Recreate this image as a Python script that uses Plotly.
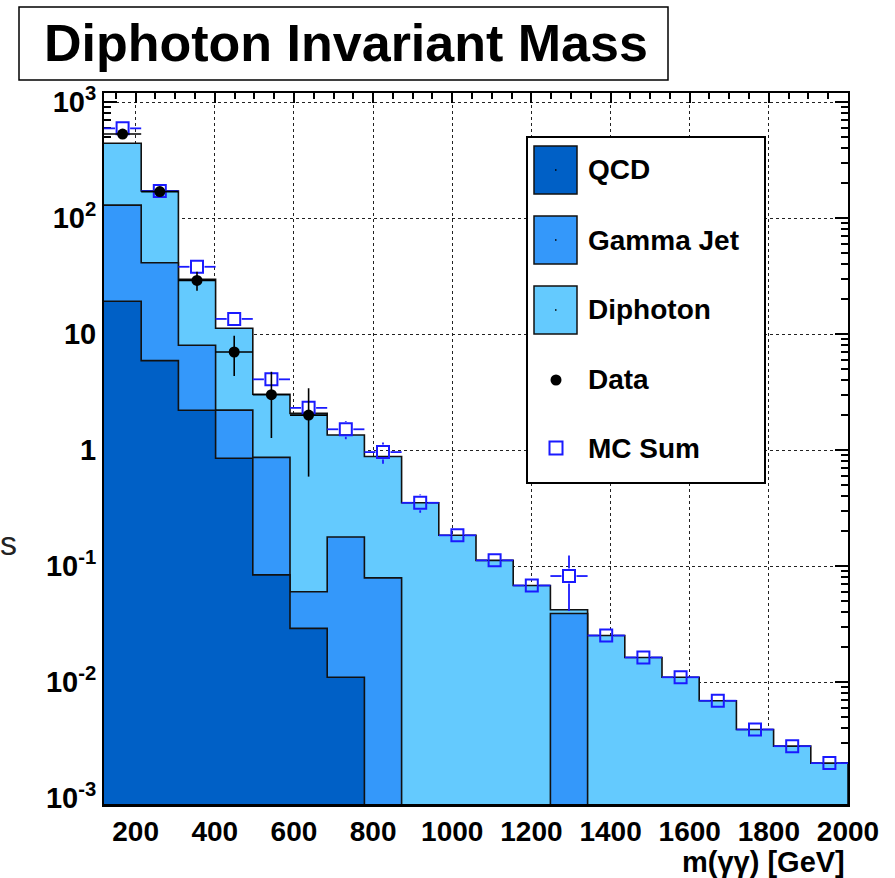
import numpy as np
import plotly.graph_objects as go

# ---------------- data ----------------
bin_low = 120
bin_width = 94
n_bins = 20
edges = bin_low + bin_width * np.arange(n_bins + 1)
centers = edges[:-1] + bin_width / 2

qcd = [19.2, 5.9, 2.2, 0.85, 0.084, 0.029, 0.011, 0, 0, 0,
       0, 0, 0, 0, 0, 0, 0, 0, 0, 0]
gamma_jet = [110.0, 35.3, 5.8, 1.36, 0.78, 0.031, 0.167, 0.079, 0, 0,
             0, 0, 0.039, 0, 0, 0, 0, 0, 0, 0]
diphoton = [312.0, 130.0, 21.6, 9.0, 2.16, 2.01, 1.17, 0.80, 0.351, 0.184,
            0.112, 0.068, 0.003, 0.0252, 0.0163, 0.011, 0.0069, 0.0039, 0.0028, 0.0020]

data_vals = [530, 169, 29, 7, 3, 2]
data_err = [23, 13, 5.4, 2.65, 1.73, 1.41]

mc_sum = [593, 171, 38, 13.5, 4.07, 2.31, 1.51, 0.96, 0.351, 0.184,
          0.112, 0.068, 0.082, 0.0252, 0.0163, 0.011, 0.0069, 0.0039, 0.0028, 0.0020]
mc_err = [15, 5, 1.5, 0.8, 0.55, 0.35, 0.27, 0.2, 0.063, 0.02,
          0.01, 0.006, 0.041, 0.002, 0.0012, 0.0008, 0.0005, 0.0003, 0.0003, 0.0002]

x_tickvals = [200, 400, 600, 800, 1000, 1200, 1400, 1600, 1800, 2000]
y_tickvals = [1e-3, 1e-2, 1e-1, 1, 10, 1e2, 1e3]
y_ticktext = ["10<sup>-3</sup>", "10<sup>-2</sup>", "10<sup>-1</sup>", "1", "10",
              "10<sup>2</sup>", "10<sup>3</sup>"]

legend_labels = ["QCD", "Gamma Jet", "Diphoton", "Data", "MC Sum"]
title_text = "Diphoton Invariant Mass"
x_title = "m(γγ) [GeV]"

# ---------------- style ----------------
C_QCD = "#0060c6"
C_GJ = "#3498fa"
C_DIPH = "#64cafe"
C_MC = "#1a1aff"
FONT = "Liberation Sans, Arial, Helvetica, sans-serif"

W, H = 895, 878
L, R, T, B = 104, 848, 93, 805
Y_RANGE = [-3.06, 3.078]
PX_PER_GEV = (R - L) / (edges[-1] - edges[0])
PX_PER_DEC = (B - T) / (Y_RANGE[1] - Y_RANGE[0])


def px_x(p):
    return (p - L) / (R - L)


def px_y(p):
    return (B - p) / (B - T)


FLOOR = 1e-9


def step_xy(vals):
    xs, ys = [], []
    for i, v in enumerate(vals):
        v = v if v > 0 else FLOOR
        xs += [edges[i], edges[i + 1]]
        ys += [v, v]
    return xs, ys


cum_qcd = np.array(qcd, dtype=float)
cum_gj = cum_qcd + np.array(gamma_jet, dtype=float)
cum_all = cum_gj + np.array(diphoton, dtype=float)

fig = go.Figure()

for vals, col in [(cum_all, C_DIPH), (cum_gj, C_GJ), (cum_qcd, C_QCD)]:
    xs, ys = step_xy(vals)
    fig.add_trace(go.Scatter(
        x=[edges[0]] + xs + [edges[-1]], y=[FLOOR] + ys + [FLOOR],
        mode="lines", fill="toself", fillcolor=col,
        line=dict(width=0), hoverinfo="skip", showlegend=False))
    fig.add_trace(go.Scatter(
        x=xs + [edges[-1]], y=ys + [FLOOR], mode="lines",
        line=dict(color="#111111", width=1.6), hoverinfo="skip", showlegend=False))

# MC sum error bars, drawn with a gap where the open marker sits (as ROOT does)
gap_x = 7.5 / PX_PER_GEV
gap_f = 10 ** (7.5 / PX_PER_DEC)
ex, ey = [], []
for i, (c, v, e) in enumerate(zip(centers, mc_sum, mc_err)):
    ex += [edges[i], c - gap_x, None, c + gap_x, edges[i + 1], None]
    ey += [v, v, None, v, v, None]
    if v + e > v * gap_f:
        ex += [c, c, None]
        ey += [v * gap_f, v + e, None]
    if v - e < v / gap_f:
        ex += [c, c, None]
        ey += [v / gap_f, max(v - e, FLOOR), None]
fig.add_trace(go.Scatter(x=ex, y=ey, mode="lines", line=dict(color=C_MC, width=1.8),
                         hoverinfo="skip", showlegend=False, connectgaps=False))

fig.add_trace(go.Scatter(
    x=centers, y=mc_sum, mode="markers",
    marker=dict(symbol="square-open", size=12, color=C_MC, line=dict(width=2, color=C_MC)),
    showlegend=False))

fig.add_trace(go.Scatter(
    x=centers[:len(data_vals)], y=data_vals, mode="markers",
    marker=dict(symbol="circle", size=11, color="black"),
    error_x=dict(type="constant", value=bin_width / 2, color="black", thickness=1.6, width=0),
    error_y=dict(type="data", array=data_err, color="black", thickness=1.6, width=0),
    showlegend=False))

tickfont = dict(family=FONT, size=28, color="black", weight="bold")

fig.update_xaxes(
    range=[edges[0], edges[-1]], tickmode="array", tickvals=x_tickvals,
    ticks="inside", ticklen=10, tickwidth=1.5, tickcolor="black",
    minor=dict(ticks="inside", dtick=50, tick0=0, ticklen=6, tickwidth=1.5, tickcolor="black"),
    showline=True, linecolor="black", linewidth=2, mirror="ticks",
    showgrid=True, gridcolor="#222222", griddash="dot", gridwidth=1,
    zeroline=False, tickfont=tickfont, layer="below traces")

minor_y = [m * 10.0 ** e for e in range(-4, 4) for m in range(2, 10)]
fig.update_yaxes(
    type="log", range=Y_RANGE, tickmode="array", tickvals=y_tickvals, ticktext=y_ticktext,
    ticks="inside", ticklen=13, tickwidth=1.5, tickcolor="black",
    minor=dict(ticks="inside", tickmode="array", tickvals=minor_y, ticklen=7, tickwidth=1.5,
               tickcolor="black"),
    showline=True, linecolor="black", linewidth=2, mirror="ticks",
    showgrid=True, gridcolor="#222222", griddash="dot", gridwidth=1,
    zeroline=False, tickfont=dict(family=FONT, size=29, color="black", weight="bold"),
    layer="below traces")

shapes = []
annotations = []

# bottom frame line
shapes.append(dict(type="line", xref="paper", yref="paper", x0=0, x1=1, y0=0, y1=0,
                   line=dict(color="black", width=2), layer="above"))

# title box
shapes.append(dict(type="rect", xref="paper", yref="paper",
                   x0=px_x(19), x1=px_x(668), y0=px_y(80), y1=px_y(7),
                   line=dict(color="black", width=1.5), fillcolor="white", layer="above"))
annotations.append(dict(text=title_text, xref="paper", yref="paper", x=px_x(346), y=px_y(43),
                        xanchor="center", yanchor="middle", showarrow=False,
                        font=dict(family=FONT, size=52, color="black", weight="bold")))

# x title
annotations.append(dict(text=x_title, xref="paper", yref="paper", x=px_x(847), y=px_y(862),
                        xanchor="right", yanchor="middle", showarrow=False,
                        font=dict(family=FONT, size=29, color="black", weight="bold")))

# legend
shapes.append(dict(type="rect", xref="paper", yref="paper",
                   x0=px_x(527), x1=px_x(765), y0=px_y(483), y1=px_y(137),
                   line=dict(color="black", width=2), fillcolor="white", layer="above"))
swatch_cols = [C_QCD, C_GJ, C_DIPH]
swatch_tops = [146, 216, 286]
for col, top in zip(swatch_cols, swatch_tops):
    shapes.append(dict(type="rect", xref="paper", yref="paper",
                       x0=px_x(534), x1=px_x(577), y0=px_y(top + 48), y1=px_y(top),
                       line=dict(color="#111111", width=1.5), fillcolor=col, layer="above"))
    shapes.append(dict(type="rect", xref="paper", yref="paper",
                       x0=px_x(555), x1=px_x(556.5), y0=px_y(top + 24.7), y1=px_y(top + 23.3),
                       line=dict(width=0), fillcolor="black", layer="above"))
shapes.append(dict(type="circle", xref="paper", yref="paper",
                   x0=px_x(550.5), x1=px_x(561.5), y0=px_y(385.5), y1=px_y(374.5),
                   line=dict(width=0), fillcolor="black", layer="above"))
shapes.append(dict(type="rect", xref="paper", yref="paper",
                   x0=px_x(549.5), x1=px_x(562.5), y0=px_y(454.5), y1=px_y(441.5),
                   line=dict(color=C_MC, width=2), fillcolor="rgba(0,0,0,0)", layer="above"))
label_y = [170, 240, 309, 380, 448]
for lab, yy in zip(legend_labels, label_y):
    annotations.append(dict(text=lab, xref="paper", yref="paper", x=px_x(586), y=px_y(yy),
                            xanchor="left", yanchor="middle", showarrow=False,
                            font=dict(family=FONT, size=28, color="black", weight="bold")))

# cut-off slide text at the left edge
annotations.append(dict(text="s", xref="paper", yref="paper", x=px_x(-2), y=px_y(543),
                        xanchor="left", yanchor="middle", showarrow=False,
                        font=dict(family=FONT, size=34, color="#222222")))

fig.update_layout(
    width=W, height=H, autosize=False,
    margin=dict(l=L, r=W - R, t=T, b=H - B, pad=0),
    paper_bgcolor="white", plot_bgcolor="white",
    shapes=shapes, annotations=annotations, showlegend=False)

fig.write_html("out.html")
